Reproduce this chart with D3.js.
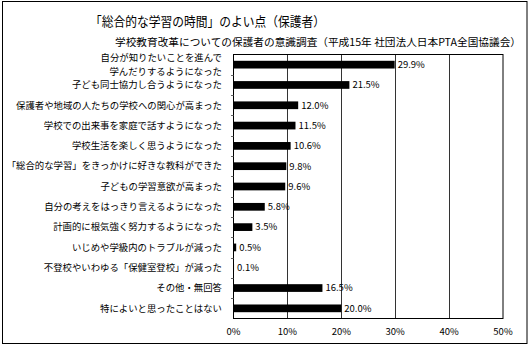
<!DOCTYPE html>
<html><head><meta charset="utf-8">
<script src="https://cdn.jsdelivr.net/npm/d3@7"></script>
<style>
body{margin:0;background:#fff;}
svg{display:block;}
text{font-family:"Noto Sans CJK JP","Noto Sans",sans-serif;fill:#000;}
</style></head>
<body><svg id="c" width="530" height="347"></svg>
<script>
const title = "「総合的な学習の時間」のよい点（保護者）";
const subtitle = "学校教育改革についての保護者の意識調査（平成15年 社団法人日本PTA全国協議会）";
const categories = [
  "自分が知りたいことを進んで\n学んだりするようになった",
  "子ども同士協力し合うようになった",
  "保護者や地域の人たちの学校への関心が高まった",
  "学校での出来事を家庭で話すようになった",
  "学校生活を楽しく思うようになった",
  "「総合的な学習」をきっかけに好きな教科ができた",
  "子どもの学習意欲が高まった",
  "自分の考えをはっきり言えるようになった",
  "計画的に根気強く努力するようになった",
  "いじめや学級内のトラブルが減った",
  "不登校やいわゆる「保健室登校」が減った",
  "その他・無回答",
  "特によいと思ったことはない"
];
const values = [29.9, 21.5, 12.0, 11.5, 10.6, 9.8, 9.6, 5.8, 3.5, 0.5, 0.1, 16.5, 20.0];
const xTicks = [0, 10, 20, 30, 40, 50];

const svg = d3.select("#c");
// outer frame
svg.append("rect").attr("x",2.5).attr("y",1.5).attr("width",524.5).attr("height",342)
  .attr("fill","none").attr("stroke","#000").attr("stroke-width",1);

svg.append("text").attr("x",90).attr("y",26).attr("font-size",13)
  .attr("textLength",235).attr("lengthAdjust","spacingAndGlyphs").text(title);
svg.append("text").attr("x",115).attr("y",46).attr("font-size",10.6)
  .attr("textLength",406).attr("lengthAdjust","spacingAndGlyphs").text(subtitle);

const x = d3.scaleLinear().domain([0,50]).range([233.5,503]);
const y = d3.scaleBand().domain(categories).range([54.5,318.5]).paddingInner(0.62).paddingOuter(0.31);

const g = svg.append("g");
// gridlines
g.selectAll("line.grid").data(xTicks.slice(1,-1)).join("line")
  .attr("x1",d=>Math.round(x(d))+0.5).attr("x2",d=>Math.round(x(d))+0.5)
  .attr("y1",54.5).attr("y2",318.5).attr("stroke","#333").attr("stroke-width",1);
// plot border
g.append("rect").attr("x",233.5).attr("y",54.5).attr("width",x(50)-x(0)).attr("height",264)
  .attr("fill","none").attr("stroke","#000").attr("stroke-width",1);
// small ticks on y axis at band boundaries
const step = y.step();
g.selectAll("line.yt").data(categories.slice(1)).join("line")
  .attr("x1",231).attr("x2",233.5)
  .attr("y1",d=>Math.round(y(d) - step*0.31)+0.5).attr("y2",d=>Math.round(y(d) - step*0.31)+0.5)
  .attr("stroke","#666").attr("stroke-width",1);

// bars
g.selectAll("rect.bar").data(values).join("rect")
  .attr("x",x(0)).attr("y",(d,i)=>y(categories[i]))
  .attr("width",d=>x(d)-x(0)).attr("height",y.bandwidth()).attr("fill","#000");

// value labels
g.selectAll("text.val").data(values).join("text")
  .attr("x",d=>x(d)+3).attr("y",(d,i)=>y(categories[i])+y.bandwidth()/2)
  .attr("dy","0.35em").attr("font-size",9.5)
  .text(d=>d.toFixed(1)+"%");

// category labels (multi-line labels become separate text elements)
categories.forEach(d=>{
  const lines = d.split("\n");
  const cy = y(d)+y.bandwidth()/2;
  const gap = 13.5;
  lines.forEach((l,i)=>{
    g.append("text").attr("x",222).attr("text-anchor","end").attr("font-size",9.4)
      .attr("y", cy + (i - (lines.length-1)/2)*gap).attr("dy","0.35em").text(l);
  });
});

// x tick labels
g.selectAll("text.xt").data(xTicks).join("text")
  .attr("x",d=>x(d)).attr("y",332).attr("dy","0.35em").attr("text-anchor","middle")
  .attr("font-size",9.5).text(d=>d+"%");
</script></body></html>
